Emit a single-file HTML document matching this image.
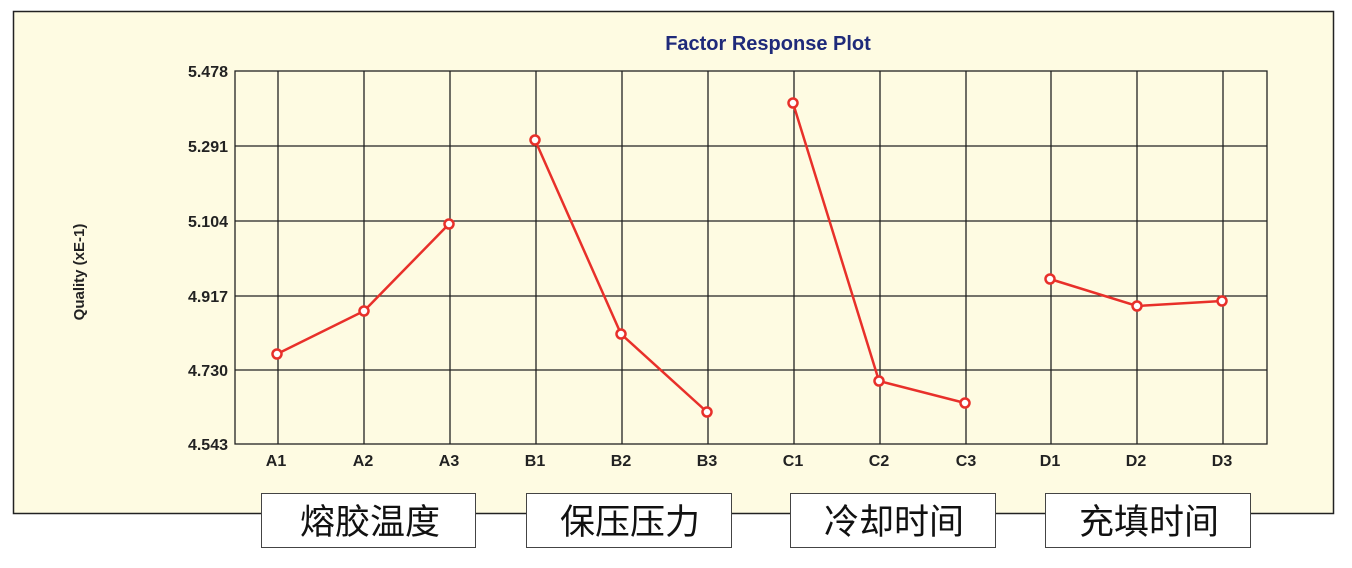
<!DOCTYPE html>
<html><head><meta charset="utf-8"><style>
body{margin:0;width:1352px;height:568px;background:#fff;overflow:hidden}
svg{display:block}
</style></head><body>
<svg width="1352" height="568" xmlns="http://www.w3.org/2000/svg" font-family="Liberation Sans, sans-serif">
<rect x="13.5" y="11.5" width="1320" height="502" fill="#FEFBE2" stroke="#222" stroke-width="1.5"/>
<text x="768" y="50" text-anchor="middle" font-size="20" font-weight="bold" fill="#1F2A7A">Factor Response Plot</text>
<g stroke="#222" stroke-width="1.3" fill="none">
<rect x="235" y="71" width="1032" height="373"/>
<line x1="235" y1="146" x2="1267" y2="146"/>
<line x1="235" y1="221" x2="1267" y2="221"/>
<line x1="235" y1="296" x2="1267" y2="296"/>
<line x1="235" y1="370" x2="1267" y2="370"/>
<line x1="278" y1="71" x2="278" y2="444"/>
<line x1="364" y1="71" x2="364" y2="444"/>
<line x1="450" y1="71" x2="450" y2="444"/>
<line x1="536" y1="71" x2="536" y2="444"/>
<line x1="622" y1="71" x2="622" y2="444"/>
<line x1="708" y1="71" x2="708" y2="444"/>
<line x1="794" y1="71" x2="794" y2="444"/>
<line x1="880" y1="71" x2="880" y2="444"/>
<line x1="966" y1="71" x2="966" y2="444"/>
<line x1="1051" y1="71" x2="1051" y2="444"/>
<line x1="1137" y1="71" x2="1137" y2="444"/>
<line x1="1223" y1="71" x2="1223" y2="444"/>
</g>
<g font-size="16" font-weight="bold" fill="#222" text-anchor="end">
<text x="228" y="77">5.478</text>
<text x="228" y="152">5.291</text>
<text x="228" y="227">5.104</text>
<text x="228" y="302">4.917</text>
<text x="228" y="376">4.730</text>
<text x="228" y="450">4.543</text>
</g>
<g font-size="16" font-weight="bold" fill="#222" text-anchor="middle">
<text x="276" y="466">A1</text><text x="363" y="466">A2</text><text x="449" y="466">A3</text>
<text x="535" y="466">B1</text><text x="621" y="466">B2</text><text x="707" y="466">B3</text>
<text x="793" y="466">C1</text><text x="879" y="466">C2</text><text x="966" y="466">C3</text>
<text x="1050" y="466">D1</text><text x="1136" y="466">D2</text><text x="1222" y="466">D3</text>
</g>
<text transform="translate(84,272) rotate(-90)" text-anchor="middle" font-size="15" font-weight="bold" fill="#222">Quality (xE-1)</text>
<g stroke="#E8302A" stroke-width="2.5" fill="none">
<polyline points="277,354 364,311 449,224"/>
<polyline points="535,140 621,334 707,412"/>
<polyline points="793,103 879,381 965,403"/>
<polyline points="1050,279 1137,306 1222,301"/>
</g>
<g stroke="#E8302A" stroke-width="2.5" fill="#fff">
<circle cx="277" cy="354" r="4.5"/><circle cx="364" cy="311" r="4.5"/><circle cx="449" cy="224" r="4.5"/>
<circle cx="535" cy="140" r="4.5"/><circle cx="621" cy="334" r="4.5"/><circle cx="707" cy="412" r="4.5"/>
<circle cx="793" cy="103" r="4.5"/><circle cx="879" cy="381" r="4.5"/><circle cx="965" cy="403" r="4.5"/>
<circle cx="1050" cy="279" r="4.5"/><circle cx="1137" cy="306" r="4.5"/><circle cx="1222" cy="301" r="4.5"/>
</g>
<g stroke="#444" stroke-width="1" fill="#fff">
<rect x="261.5" y="493.5" width="214" height="54"/>
<rect x="526.5" y="493.5" width="205" height="54"/>
<rect x="790.5" y="493.5" width="205" height="54"/>
<rect x="1045.5" y="493.5" width="205" height="54"/>
</g>
<g font-family="Liberation Sans, Noto Sans CJK SC, sans-serif" font-size="35" fill="#111" text-anchor="middle">
<text x="370" y="534">熔胶温度</text>
<text x="630" y="534">保压压力</text>
<text x="894" y="534">冷却时间</text>
<text x="1149" y="534">充填时间</text>
</g>
</svg>
</body></html>
